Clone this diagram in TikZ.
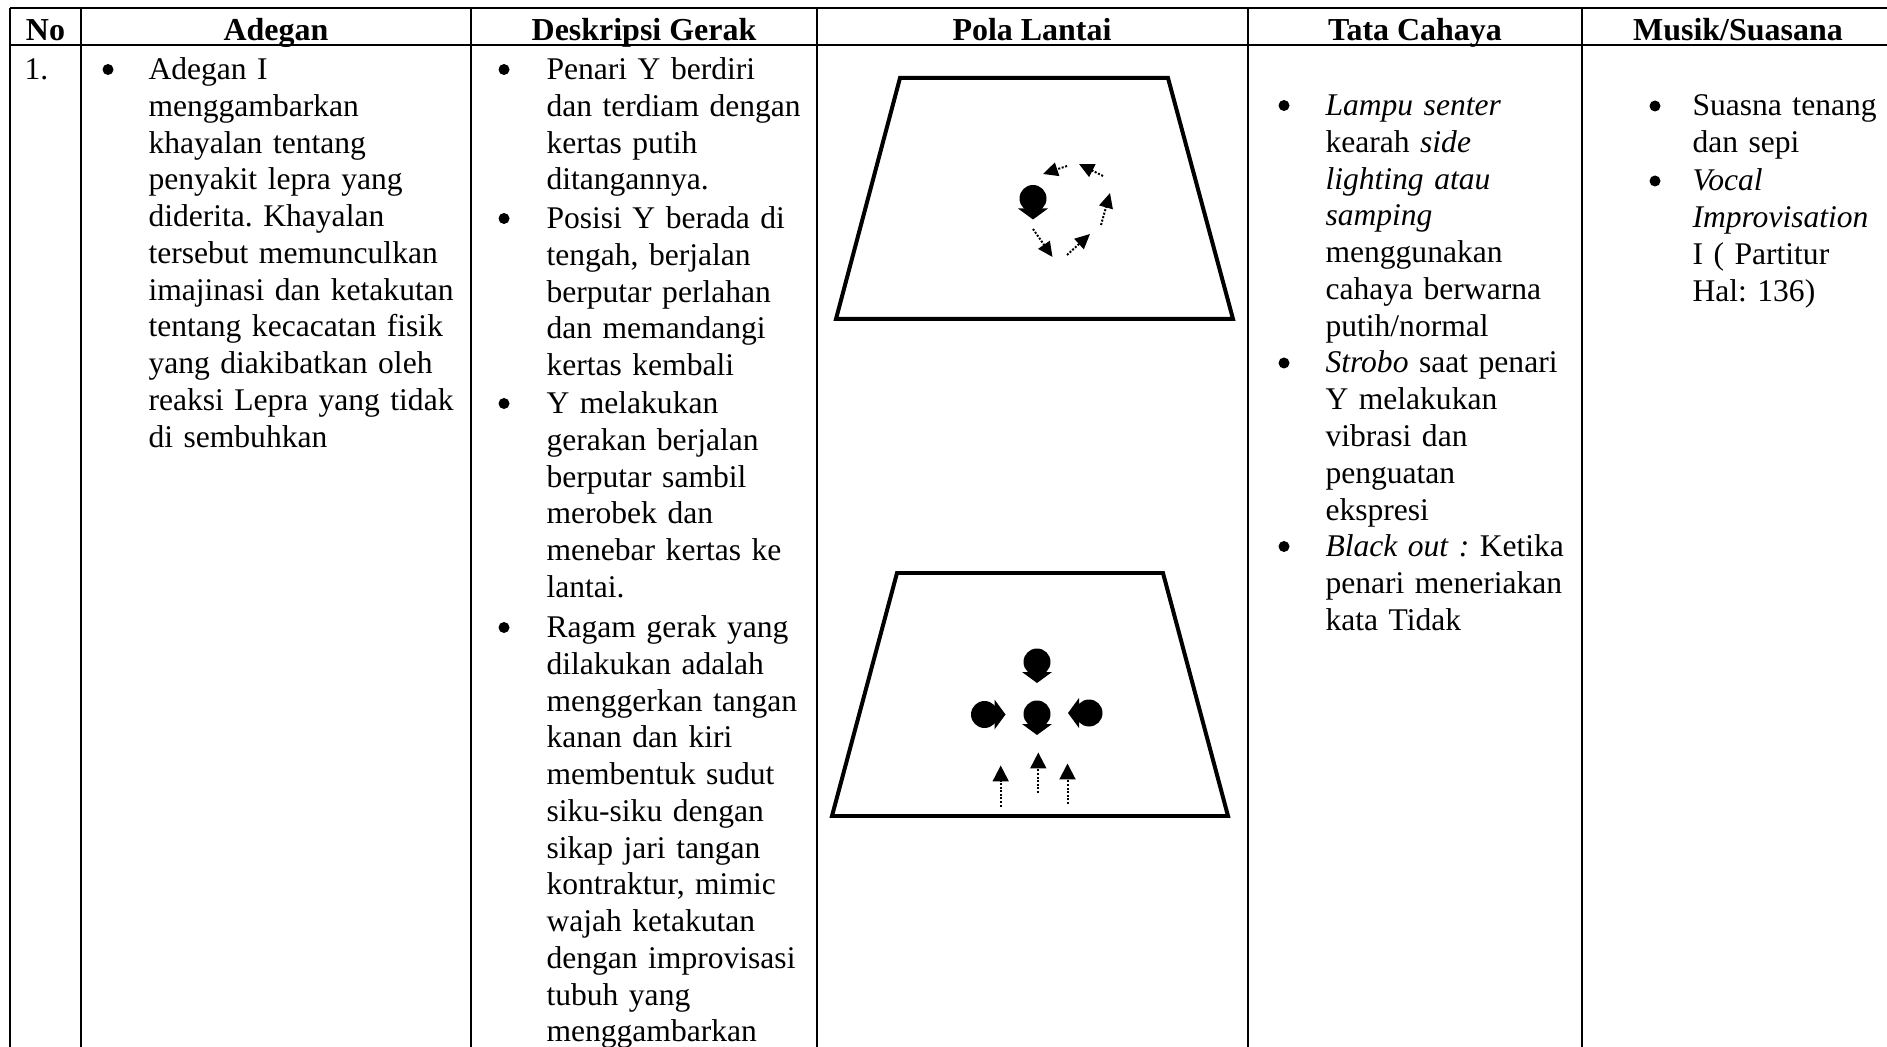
\documentclass[tikz,border=0pt]{standalone}
\usepackage{fontspec}
\setmainfont{Liberation Serif}
\usetikzlibrary{arrows.meta}
\frenchspacing
\begin{document}
\begin{tikzpicture}[x=0.3754pt,y=-0.3754pt,
  rule/.style={line width=0.75pt},
  stage/.style={line width=1.5pt},
  headtxt/.style={anchor=base, inner sep=0pt, font=\fontsize{12}{13.8}\selectfont\bfseries},
  celltxt/.style={anchor=base west, inner sep=0pt, text width=6cm, align=left, font=\fontsize{11.85}{13.8}\selectfont\frenchspacing},
  bul/.style={fill=black},
  walk/.style={line width=0.75pt, dash pattern=on 0.75pt off 0.6pt, -{Triangle[length=5.6pt,width=5.2pt]}},
  enter/.style={line width=0.75pt, dash pattern=on 0.75pt off 0.6pt, -{Triangle[length=6pt,width=6pt]}},
  dancer/.pic={\fill (0,0) circle (13.5); \fill (-15,10) -- (15,10) -- (0,21) -- cycle;}
]
\useasboundingbox (0,0) rectangle (1887,1047);

% table rules
\draw[rule] (10,8) -- (1887,8);
\draw[rule] (10,45) -- (1887,45);
\foreach \cx in {10,81,471,817,1248,1582}
  \draw[rule] (\cx,8) -- (\cx,1047);

% header row
\node[headtxt] (hNo)  at (45.5,41) {No};
\node[headtxt] (hAd)  at (276,41)  {Adegan};
\node[headtxt] (hDe)  at (644,41)  {Deskripsi Gerak};
\node[headtxt] (hPo)  at (1032,41) {Pola Lantai};
\node[headtxt] (hTa)  at (1415,41) {Tata Cahaya};
\node[headtxt] (hMu)  at (1738,41) {Musik/Suasana};

% column: No
\node[celltxt] (no1) at (24,79.5) {1.};

% column: Adegan
\fill[bul] (108,69.5) circle (5.5);
\node[celltxt] (ad1) at (148,79.5) {Adegan I\\menggambarkan\\khayalan tentang\\penyakit lepra yang\\diderita. Khayalan\\tersebut memunculkan\\imajinasi dan ketakutan\\tentang kecacatan fisik\\yang diakibatkan oleh\\reaksi Lepra yang tidak\\di sembuhkan};

% column: Deskripsi Gerak
\fill[bul] (504,69.5) circle (5.5);
\node[celltxt] (de1) at (546,79.5) {Penari Y berdiri\\dan terdiam dengan\\kertas putih\\ditangannya.};
\fill[bul] (504,218.5) circle (5.5);
\node[celltxt] (de2) at (546,228.5) {Posisi Y berada di\\tengah, berjalan\\berputar perlahan\\dan memandangi\\kertas kembali};
\fill[bul] (504,403.5) circle (5.5);
\node[celltxt] (de3) at (546,413.5) {Y melakukan\\gerakan berjalan\\berputar sambil\\merobek dan\\menebar kertas ke\\lantai.};
\fill[bul] (504,627.5) circle (5.5);
\node[celltxt] (de4) at (546,637.5) {Ragam gerak yang\\dilakukan adalah\\menggerkan tangan\\kanan dan kiri\\membentuk sudut\\siku-siku dengan\\sikap jari tangan\\kontraktur, mimic\\wajah ketakutan\\dengan improvisasi\\tubuh yang\\menggambarkan};

% column: Pola Lantai, first floor plan (circling walk)
\draw[stage] (900,78) -- (1168,78) -- (1233,319) -- (836,319) -- cycle;
\pic at (1033,198.5) {dancer};
\coordinate (w1s) at (1033,229);   \coordinate (w1e) at (1052.5,257);
\coordinate (w2s) at (1067,255);   \coordinate (w2e) at (1090,234);
\coordinate (w3s) at (1101,225);   \coordinate (w3e) at (1110,193);
\coordinate (w4s) at (1103,176);   \coordinate (w4e) at (1079,164);
\coordinate (w5s) at (1067,166);   \coordinate (w5e) at (1043,174);
\foreach \i in {1,...,5} \draw[walk] (w\i s) -- (w\i e);

% column: Pola Lantai, second floor plan (gathering)
\draw[stage] (897,573) -- (1163,573) -- (1228,816) -- (832,816) -- cycle;
\pic at (1037,662) {dancer};
\pic at (1037,714) {dancer};
\pic[rotate=90] at (984.5,714.5) {dancer};
\pic[rotate=-90] at (1089,713) {dancer};
\coordinate (e1s) at (1000.7,806.5); \coordinate (e1e) at (1000.7,765.5);
\coordinate (e2s) at (1038.3,793);   \coordinate (e2e) at (1038.3,752.5);
\coordinate (e3s) at (1067.5,804);   \coordinate (e3e) at (1067.5,763.5);
\foreach \i in {1,2,3} \draw[enter] (e\i s) -- (e\i e);

% column: Tata Cahaya
\fill[bul] (1284,105.5) circle (5.5);
\node[celltxt] (ta1) at (1325,115.5) {\textit{Lampu senter}\\kearah \textit{side}\\\textit{lighting atau}\\\textit{samping}\\menggunakan\\cahaya berwarna\\putih/normal};
\fill[bul] (1284,363) circle (5.5);
\node[celltxt] (ta2) at (1325,373) {\textit{Strobo} saat penari\\Y melakukan\\vibrasi dan\\penguatan\\ekspresi};
\fill[bul] (1284,546.5) circle (5.5);
\node[celltxt] (ta3) at (1325,556.5) {\textit{Black out :} Ketika\\penari meneriakan\\kata Tidak};

% column: Musik/Suasana
\fill[bul] (1655,106) circle (5.5);
\node[celltxt] (mu1) at (1692,116) {Suasna tenang\\dan sepi};
\fill[bul] (1655,181) circle (5.5);
\node[celltxt] (mu2) at (1692,191) {\textit{Vocal}\\\textit{Improvisation}\\I ( Partitur\\Hal: 136)};
\end{tikzpicture}
\end{document}
